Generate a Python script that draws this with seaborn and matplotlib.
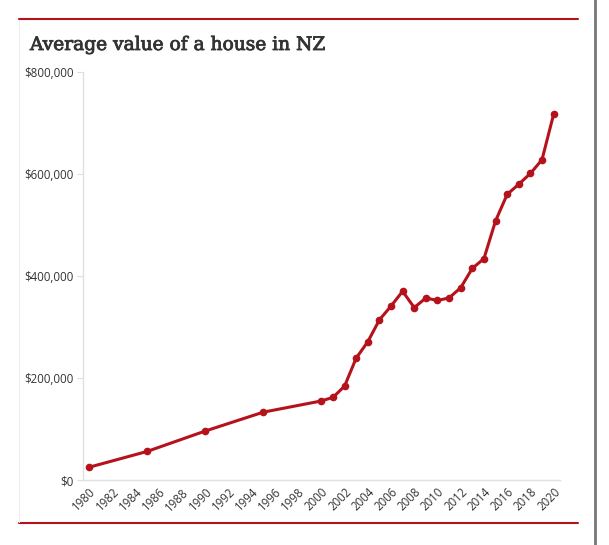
import matplotlib
matplotlib.use("Agg")
import matplotlib.pyplot as plt
import matplotlib.ticker as mticker
import matplotlib.patheffects as pe
from matplotlib.lines import Line2D
import pandas as pd
import seaborn as sns

# data
years = [1980, 1985, 1990, 1995, 2000, 2001, 2002, 2003, 2004, 2005, 2006,
         2007, 2008, 2009, 2010, 2011, 2012, 2013, 2014, 2015, 2016, 2017,
         2018, 2019, 2020]
values = [25000, 56000, 96000, 133000, 155000, 162000, 184000, 239000, 271000,
          314000, 341000, 370000, 338000, 357000, 352000, 357000, 377000,
          415000, 434000, 508000, 560000, 580000, 601000, 628000, 717000]
x_ticks = list(range(1980, 2021, 2))
y_ticks = [0, 200000, 400000, 600000, 800000]

df = pd.DataFrame({"year": years, "value": values})

sns.set_theme(style="white")
plt.rcParams["font.family"] = ["Open Sans", "DejaVu Sans"]

RED = "#b5121b"
fig = plt.figure(figsize=(6.09, 5.45), dpi=100)
W, H = 609, 545
ax = fig.add_axes([83 / W, 1 - 480 / H, (560 - 83) / W, (480 - 72) / H])

sns.lineplot(data=df, x="year", y="value", ax=ax, color=RED, linewidth=2.2,
             marker="o", markersize=5.5, markeredgewidth=0)

ax.set_xlim(1979.48, 2020.55)
ax.set_ylim(0, 800000)
ax.set_xticks(x_ticks)
ax.set_yticks(y_ticks)
ax.yaxis.set_major_formatter(mticker.FuncFormatter(lambda v, p: f"${v:,.0f}"))
ax.set_xlabel("")
ax.set_ylabel("")

for side in ["top", "right"]:
    ax.spines[side].set_visible(False)
for side in ["left", "bottom"]:
    ax.spines[side].set_color("#e0e0e0")
    ax.spines[side].set_linewidth(1.0)

ax.tick_params(axis="y", length=4, width=0.8, color="#dddddd", pad=3,
               labelsize=8.3, labelcolor="#333333", left=True)
ax.tick_params(axis="x", length=0, pad=4, labelsize=8.3, labelcolor="#333333")
for lbl in ax.get_xticklabels():
    lbl.set_rotation(45)
    lbl.set_ha("right")
    lbl.set_va("top")
    lbl.set_rotation_mode("anchor")

# title and page decorations
fig.text(30 / W, 1 - 50 / H, "Average value of a house in NZ", fontsize=13.4,
         color="#333333", family=["DejaVu Serif"], ha="left", va="baseline",
         path_effects=[pe.withStroke(linewidth=0.6, foreground="#333333")])
fig.add_artist(Line2D([19 / W, 578 / W], [1 - 19 / H, 1 - 19 / H],
                      color=RED, linewidth=1.5))
fig.add_artist(Line2D([19 / W, 578 / W], [1 - 522.5 / H, 1 - 522.5 / H],
                      color=RED, linewidth=1.5))
fig.add_artist(Line2D([19 / W, 19 / W], [1 - 20 / H, 1 - 522 / H],
                      color="#eeeeee", linewidth=0.8))
fig.add_artist(Line2D([595 / W, 595 / W], [0, 1], color="#777777",
                      linewidth=2.0))

fig.savefig("out.png", dpi=100)
